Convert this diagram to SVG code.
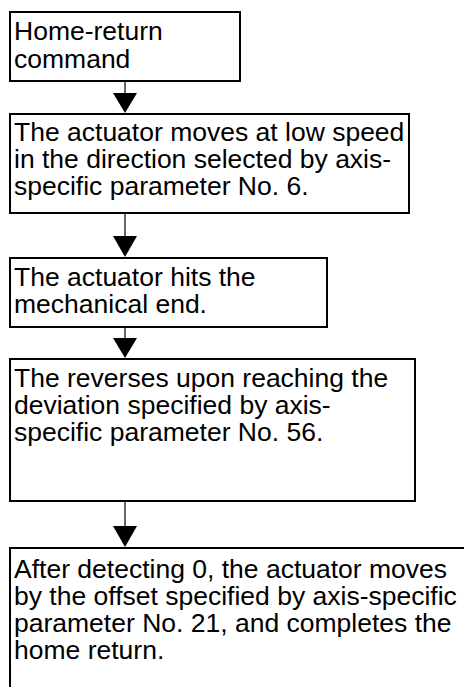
<svg xmlns="http://www.w3.org/2000/svg" width="464" height="687" viewBox="0 0 464 687">
<style>
.box{fill:#fff;stroke:#000;stroke-width:2}
.t{font-family:"Liberation Sans",Arial,sans-serif;font-size:26.5px;fill:#000}
.ln{stroke:#000;stroke-width:1.2}
.ah{fill:#000}
</style>
<rect width="464" height="687" fill="#fff"/>
<g id="n1">
<rect class="box" x="10" y="12" width="230" height="69"/>
<text class="t" x="14" y="40">Home-return</text>
<text class="t" x="14" y="68">command</text>
</g>
<g id="n2">
<rect class="box" x="10" y="114" width="399" height="99"/>
<text class="t" x="14" y="141">The actuator moves at low speed</text>
<text class="t" x="14" y="168">in the direction selected by axis-</text>
<text class="t" x="14" y="195">specific parameter No. 6.</text>
</g>
<g id="n3">
<rect class="box" x="10" y="258" width="317" height="69"/>
<text class="t" x="14" y="286">The actuator hits the</text>
<text class="t" x="14" y="313">mechanical end.</text>
</g>
<g id="n4">
<rect class="box" x="10" y="359" width="405" height="142"/>
<text class="t" x="14" y="387">The reverses upon reaching the</text>
<text class="t" x="14" y="414">deviation specified by axis-</text>
<text class="t" x="14" y="441">specific parameter No. 56.</text>
</g>
<g id="n5">
<rect class="box" x="10" y="548" width="470" height="160"/>
<text class="t" x="14" y="578">After detecting 0, the actuator moves</text>
<text class="t" x="14" y="605">by the offset specified by axis-specific</text>
<text class="t" x="14" y="632">parameter No. 21, and completes the</text>
<text class="t" x="14" y="659">home return.</text>
</g>
<g id="connectors">
<line class="ln" x1="125" y1="81" x2="125" y2="95"/>
<polygon class="ah" points="113,93 137,93 125,113"/>
<line class="ln" x1="125" y1="213" x2="125" y2="238"/>
<polygon class="ah" points="113,236 137,236 125,257"/>
<line class="ln" x1="125" y1="327" x2="125" y2="340"/>
<polygon class="ah" points="113,338 137,338 125,358"/>
<line class="ln" x1="125" y1="501" x2="125" y2="528"/>
<polygon class="ah" points="113,526 137,526 125,547"/>
</g>
</svg>
